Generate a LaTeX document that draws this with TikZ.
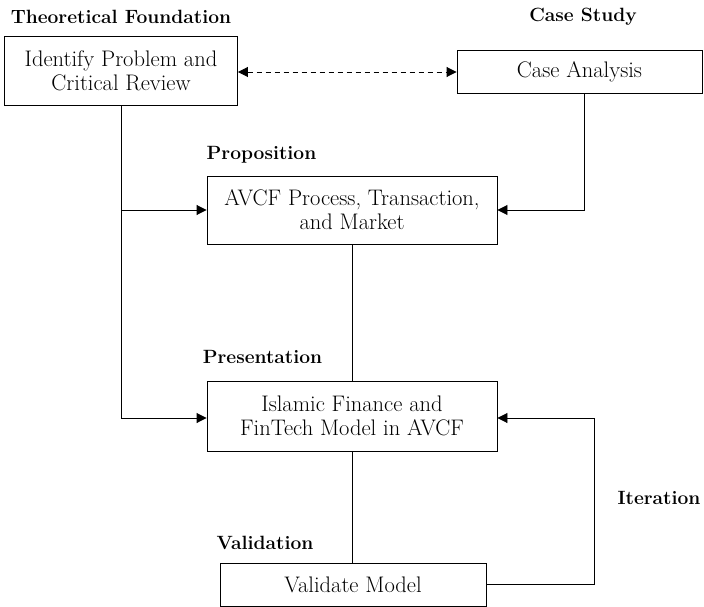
\documentclass[tikz,border=0pt]{standalone}
\usetikzlibrary{arrows.meta}
\begin{document}
\begin{tikzpicture}[x=1pt,y=-1pt,
  box/.style={draw, line width=0.9pt, rectangle, inner sep=0pt, align=center,
    font=\fontsize{22.5}{24}\selectfont},
  head/.style={font=\fontsize{19.2}{22}\selectfont\bfseries, inner sep=0pt},
  conn/.style={line width=0.9pt},
  tip/.style={-{Triangle[length=10pt,width=10pt]}}
]
\useasboundingbox (0,0) rectangle (704,607);
\node[box, minimum width=233pt, minimum height=69pt] (b1) at (121,71) {Identify Problem and\\Critical Review};
\node[box, minimum width=245pt, minimum height=43pt] (b2) at (579.5,71.5) {Case Analysis};
\node[box, minimum width=290pt, minimum height=68pt] (b3) at (352,210) {AVCF Process, Transaction,\\and Market};
\node[box, minimum width=290pt, minimum height=70pt] (b4) at (352,416) {Islamic Finance and\\FinTech Model in AVCF};
\node[box, minimum width=266pt, minimum height=43pt] (b5) at (353,584.5) {Validate Model};

\node[head] (h1) at (121,17) {Theoretical Foundation};
\node[head] (h2) at (583,17) {Case Study};
\node[head] (h3) at (261.5,155) {Proposition};
\node[head] (h4) at (262.5,357) {Presentation};
\node[head] (h5) at (265,543) {Validation};
\node[head] (h6) at (659,498) {Iteration};

\coordinate (c1) at (121,418);
\draw[conn, dashed, dash pattern=on 5pt off 4pt, {Triangle[length=10pt,width=10pt]}-{Triangle[length=10pt,width=10pt]}] (b1.east |- 0,72) -- (b2.west |- 0,72);
\draw[conn, tip] (b1.south -| c1) -- (c1) -- (b4.west |- c1);
\draw[conn, tip] (121,210) -- (b3.west);
\coordinate (c2) at (584,210);
\draw[conn, tip] (b2.south -| c2) -- (c2) -- (b3.east);
\draw[conn] (b3.south) -- (b4.north);
\draw[conn] (b4.south) -- (b4.south |- b5.north);
\coordinate (c3) at (594,584);
\coordinate (c4) at (594,418);
\draw[conn, tip] (b5.east |- c3) -- (c3) -- (c4) -- (b4.east |- c4);
\end{tikzpicture}
\end{document}
